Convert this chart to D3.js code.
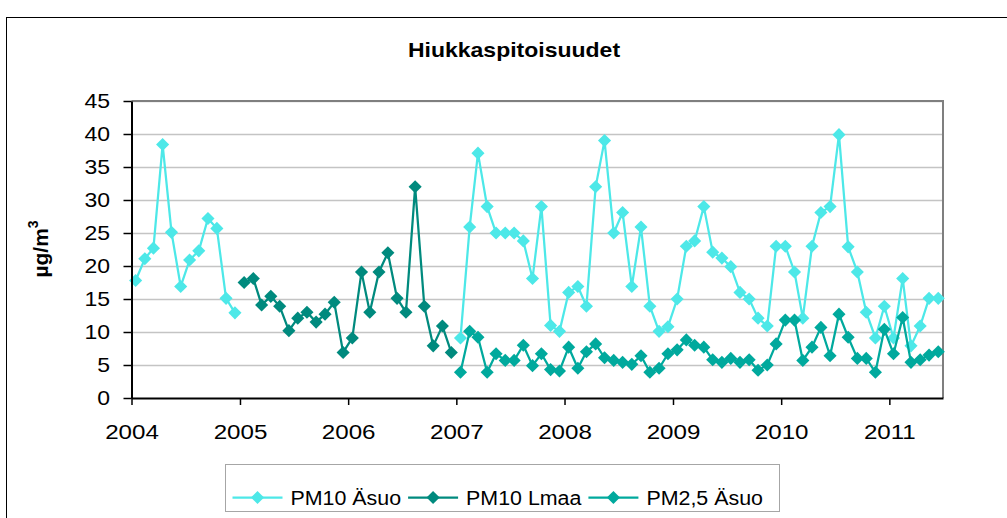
<!DOCTYPE html>
<html>
<head>
<meta charset="utf-8">
<script src="https://cdn.jsdelivr.net/npm/d3@7"></script>
<style>
body { margin: 0; background: #fff; }
text { font-family: "Liberation Sans", Arial, sans-serif; fill: #000; }
</style>
</head>
<body>
<div id="chart"></div>
<script>
var titleText = "Hiukkaspitoisuudet";
var seriesNames = ["PM10 Äsuo", "PM10 Lmaa", "PM2,5 Äsuo"];
var colors = ["#4de8e8", "#008a7e", "#00a99d"];
var yearLabels = ["2004", "2005", "2006", "2007", "2008", "2009", "2010", "2011"];
var yTicks = [0, 5, 10, 15, 20, 25, 30, 35, 40, 45];

// monthly means, first value belongs to the start month
var pm10AsuoStart = "2004-01";
var pm10Asuo = [17.8, 21.1, 22.7, 38.4, 25.1, 16.9, 20.9, 22.3, 27.2, 25.7, 15.1, 12.9,
  null, null, null, null, null, null, null, null, null, null, null, null,
  null, null, null, null, null, null, null, null, null, null, null, null,
  9.1, 25.9, 37.1, 29.0, 25.0, 25.0, 25.0, 23.8, 18.1, 29.0, 11.0, 10.1,
  16.0, 16.9, 13.9, 32.0, 39.0, 25.0, 28.1, 16.9, 25.9, 13.9, 10.1, 10.8,
  15.0, 23.0, 23.8, 29.0, 22.1, 21.2, 19.9, 16.0, 15.0, 12.1, 10.9, 23.0,
  23.0, 19.1, 12.1, 23.0, 28.1, 29.0, 39.9, 22.9, 19.1, 13.0, 9.1, 13.9,
  9.1, 18.1, 7.9, 10.9, 15.1, 15.1];

var pm10LmaaStart = "2005-01";
var pm10Lmaa = [17.5, 18.1, 14.1, 15.4, 13.9, 10.2, 12.1, 13.0, 11.5, 12.7, 14.5, 6.9,
  9.1, 19.1, 13.0, 19.1, 22.0, 15.1, 13.0, 32.0, 13.9, 7.9, 10.9, 6.9];

var pm25AsuoStart = "2007-01";
var pm25Asuo = [3.9, 10.1, 9.2, 3.9, 6.7, 5.7, 5.7, 8.0, 4.9, 6.7, 4.3, 4.1,
  7.7, 4.5, 7.0, 8.2, 6.1, 5.7, 5.4, 5.1, 6.4, 3.9, 4.5, 6.7,
  7.3, 8.8, 8.0, 7.7, 5.8, 5.4, 6.0, 5.4, 5.8, 4.2, 5.0, 8.2,
  11.8, 11.8, 5.7, 7.7, 10.7, 6.4, 12.7, 9.2, 6.0, 6.0, 3.9, 10.4,
  6.7, 12.2, 5.4, 5.8, 6.5, 7.0];

var parseMonth = d3.timeParse("%Y-%m");

function toPoints(start, values) {
  var first = parseMonth(start);
  return values.map(function(v, i) {
    var d = d3.timeMonth.offset(first, i);
    return {date: new Date(d.getFullYear(), d.getMonth(), 15), value: v};
  });
}

var series = [
  {name: seriesNames[0], color: colors[0], points: toPoints(pm10AsuoStart, pm10Asuo)},
  {name: seriesNames[1], color: colors[1], points: toPoints(pm10LmaaStart, pm10Lmaa)},
  {name: seriesNames[2], color: colors[2], points: toPoints(pm25AsuoStart, pm25Asuo)}
];

var W = 1007, H = 518;
var margin = {top: 101, right: 64, bottom: 120, left: 131.5};
var width = W - margin.left - margin.right;
var height = H - margin.top - margin.bottom;

// stretch text horizontally like the original picture
function stretch(sel, s) {
  sel.each(function() {
    var t = d3.select(this);
    var x = +t.attr("x") || 0;
    t.attr("x", x / s).attr("transform", "scale(" + s + ",1)");
  });
}

var svg = d3.select("#chart").append("svg")
  .attr("width", W)
  .attr("height", H);

svg.append("rect").attr("width", W).attr("height", H).attr("fill", "#fff");

// chart area frame
svg.append("rect")
  .attr("x", 6.5).attr("y", 17.5)
  .attr("width", 1030).attr("height", 530)
  .attr("fill", "none")
  .attr("stroke", "#000")
  .attr("stroke-width", 1);

var tg = svg.append("g").attr("transform", "translate(514,57)");
tg.append("text")
  .attr("text-anchor", "middle")
  .attr("font-size", 20)
  .attr("font-weight", "bold")
  .text(titleText)
  .call(stretch, 1.15);

var g = svg.append("g")
  .attr("transform", "translate(" + margin.left + "," + margin.top + ")");

var x = d3.scaleTime()
  .domain([new Date(2004, 0, 1), new Date(2011, 6, 1)])
  .range([0, width]);

var y = d3.scaleLinear()
  .domain([0, 45])
  .range([height, 0]);

// gridlines
g.append("g")
  .attr("class", "grid")
  .call(d3.axisLeft(y).tickValues(yTicks.slice(1)).tickSize(-width).tickFormat(""))
  .call(function(s) {
    s.select(".domain").remove();
    s.selectAll("line").attr("stroke", "#c4c4c4").attr("stroke-width", 1.5);
  });

// plot area border (top and right)
g.append("path")
  .attr("d", "M0,0H" + width + "V" + height)
  .attr("fill", "none")
  .attr("stroke", "#7f7f7f")
  .attr("stroke-width", 2);

var line = d3.line()
  .defined(function(d) { return d.value != null; })
  .x(function(d) { return x(d.date); })
  .y(function(d) { return y(d.value); });

var diamond = d3.symbol().type(d3.symbolSquare).size(86);

series.forEach(function(s) {
  var sg = g.append("g");
  sg.append("path")
    .attr("d", line(s.points))
    .attr("fill", "none")
    .attr("stroke", s.color)
    .attr("stroke-width", 2.25);
  sg.selectAll("path.mark")
    .data(s.points.filter(function(d) { return d.value != null; }))
    .enter().append("path")
    .attr("class", "mark")
    .attr("d", diamond)
    .attr("fill", s.color)
    .attr("transform", function(d) {
      return "translate(" + x(d.date) + "," + y(d.value) + ") rotate(45)";
    });
});

// axes
g.append("g")
  .attr("class", "axis")
  .call(d3.axisLeft(y).tickValues(yTicks).tickSize(8).tickSizeOuter(0).tickPadding(13.5))
  .call(function(s) {
    s.select(".domain").attr("stroke", "#000").attr("stroke-width", 2);
    s.selectAll(".tick line").attr("stroke", "#000").attr("stroke-width", 1.5);
    s.selectAll("text").attr("font-size", 20).attr("font-family", null).call(stretch, 1.15);
  });

g.append("g")
  .attr("class", "axis")
  .attr("transform", "translate(0," + height + ")")
  .call(d3.axisBottom(x)
    .tickValues(yearLabels.map(function(l) { return new Date(+l, 0, 1); }))
    .tickFormat(function(d, i) { return yearLabels[i]; })
    .tickSize(7).tickSizeOuter(0).tickPadding(19))
  .call(function(s) {
    s.select(".domain").attr("stroke", "#000").attr("stroke-width", 2);
    s.selectAll(".tick line").attr("stroke", "#000").attr("stroke-width", 1.5);
    s.selectAll("text").attr("font-size", 21).attr("font-family", null).call(stretch, 1.15);
  });

// y axis title
var yt = svg.append("text")
  .attr("transform", "translate(48,249) rotate(-90)")
  .attr("text-anchor", "middle")
  .attr("font-size", 21)
  .attr("font-weight", "bold");
yt.append("tspan").text("µg/m");
yt.append("tspan").attr("font-size", 14).attr("dy", -10).text("3");

// legend
var legend = svg.append("g").attr("transform", "translate(225.5,464.5)");
legend.append("rect")
  .attr("width", 554).attr("height", 47)
  .attr("fill", "#fff")
  .attr("stroke", "#a6a6a6")
  .attr("stroke-width", 1);

var lx = 7;
series.forEach(function(s) {
  var item = legend.append("g").attr("transform", "translate(" + lx + ",33)");
  item.append("line")
    .attr("x1", 0).attr("x2", 50)
    .attr("stroke", s.color).attr("stroke-width", 2.25);
  item.append("path")
    .attr("d", diamond)
    .attr("fill", s.color)
    .attr("transform", "translate(25,0) rotate(45)");
  var t = item.append("text")
    .attr("x", 58)
    .attr("dy", "0.35em")
    .attr("font-size", 20)
    .text(s.name)
    .call(stretch, 1.07);
  lx += 58 + t.node().getComputedTextLength() * 1.07 + 7;
});
</script>
</body>
</html>
